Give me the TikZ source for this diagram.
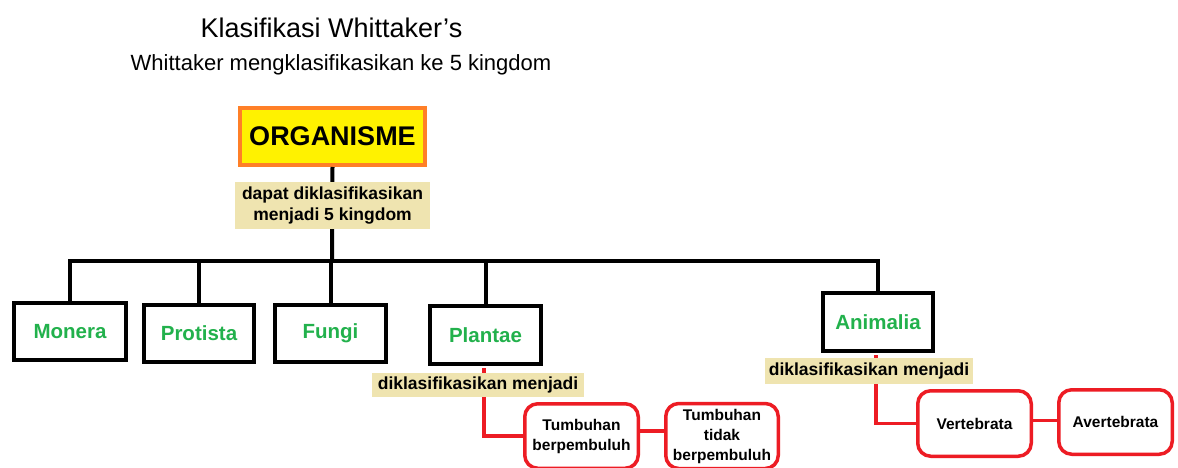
\documentclass[tikz,border=0pt]{standalone}
\usepackage{fontspec}
\setmainfont{Liberation Sans}
\definecolor{kgreen}{HTML}{22B14C}
\definecolor{beige}{HTML}{EFE4B0}
\definecolor{kyellow}{HTML}{FFF200}
\definecolor{korange}{HTML}{FF7F27}
\definecolor{kred}{HTML}{ED1C24}
\begin{document}
\begin{tikzpicture}[x=1pt,y=-1pt,
  kbox/.style={draw=black,line width=4pt,fill=white,font=\fontsize{20.5}{24}\selectfont\bfseries,text=kgreen,inner sep=0pt},
  lab/.style={fill=beige,inner sep=0pt,font=\fontsize{17.5}{21}\selectfont\bfseries,align=center},
  rbox/.style={draw=kred,line width=3.5pt,rounded corners=13pt,fill=white,font=\fontsize{15.5}{20}\selectfont\bfseries,align=center,inner sep=0pt},
  conn/.style={line width=4pt},
  rconn/.style={draw=kred,line width=3.5pt}]
\clip (0,0) rectangle (1178,468);
\fill[white] (0,0) rectangle (1178,468);

\node[anchor=base,font=\fontsize{27}{32}\selectfont] (title) at (331.5,38) {Klasifikasi Whittaker’s};
\node[anchor=base,font=\fontsize{22}{26}\selectfont] (sub) at (341,71) {Whittaker mengklasifikasikan ke 5 kingdom};

\node[draw=korange,fill=kyellow,line width=4pt,minimum width=185pt,minimum height=57pt,inner sep=0pt,font=\fontsize{27}{32}\selectfont\bfseries] (org) at (332.5,136.5) {ORGANISME};

\node[kbox,minimum width=112pt,minimum height=57pt] (monera) at (70,331.5) {Monera};
\node[kbox,minimum width=110pt,minimum height=57pt] (protista) at (199,333.5) {Protista};
\node[kbox,minimum width=111pt,minimum height=57pt] (fungi) at (330.5,333.5) {Fungi};
\node[kbox,minimum width=111pt,minimum height=58pt] (plantae) at (485.5,335) {Plantae};
\node[kbox,minimum width=110pt,minimum height=58pt] (animalia) at (878,322) {Animalia};

\coordinate (bus) at (332,261);
\draw[conn] (org.south) -- (bus);
\draw[conn] (monera.north) |- (bus) -| (animalia.north);
\draw[conn] (protista.north) -- (protista.north |- bus);
\draw[conn] (fungi.north) -- (fungi.north |- bus);
\draw[conn] (plantae.north) -- (plantae.north |- bus);

\node[rbox,minimum width=113.5pt,minimum height=64.5pt] (tb) at (581.5,436) {Tumbuhan\\berpembuluh};
\node[rbox,minimum width=112.5pt,minimum height=65pt] (ttb) at (722,436) {Tumbuhan\\tidak\\berpembuluh};
\node[rbox,minimum width=113.5pt,minimum height=65.5pt] (vert) at (974.5,423.5) {Vertebrata};
\node[rbox,minimum width=113.5pt,minimum height=64.5pt] (aver) at (1115.5,422) {Avertebrata};

\draw[rconn] ([xshift=-1.5pt,yshift=-2pt]plantae.south) |- (tb.west);
\draw[rconn] ([yshift=5pt]tb.east) -- ([yshift=5pt]tb.east -| ttb.west);
\draw[rconn] ([xshift=-2pt,yshift=-2pt]animalia.south) |- (vert.west);
\draw[rconn] ([yshift=3pt]vert.east) -- ([yshift=3pt]vert.east -| aver.west);

\node[lab,minimum width=195pt,minimum height=47pt] (lab1) at (332.5,205.5) {dapat diklasifikasikan\\menjadi 5 kingdom};
\node[lab,minimum width=212pt,minimum height=24pt] (lab2) at (478,385) {diklasifikasikan menjadi};
\node[lab,minimum width=208pt,minimum height=26pt] (lab3) at (869,371) {diklasifikasikan menjadi};
\end{tikzpicture}
\end{document}
